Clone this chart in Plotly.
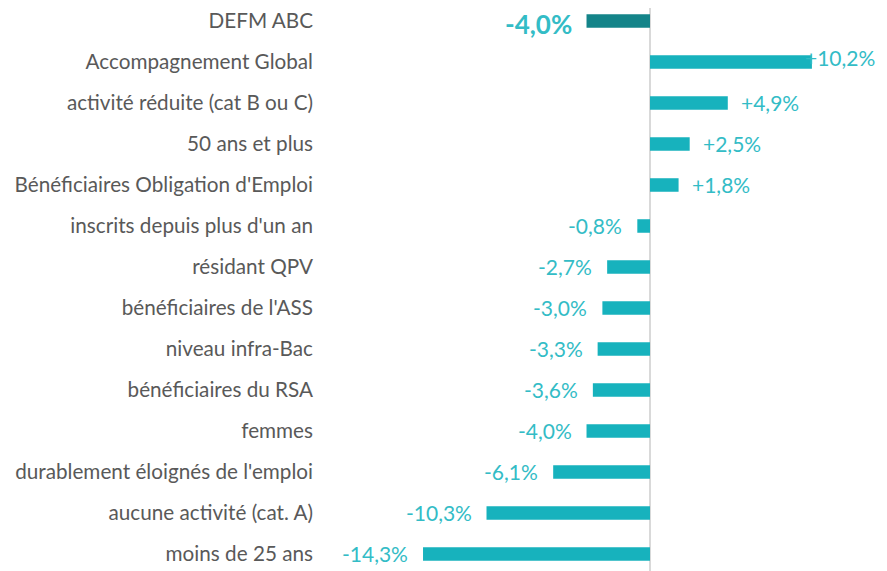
import plotly.graph_objects as go

categories = [
    "DEFM ABC",
    "Accompagnement Global",
    "activité réduite (cat B ou C)",
    "50 ans et plus",
    "Bénéficiaires Obligation d'Emploi",
    "inscrits depuis plus d'un an",
    "résidant QPV",
    "bénéficiaires de l'ASS",
    "niveau infra-Bac",
    "bénéficiaires du RSA",
    "femmes",
    "durablement éloignés de l'emploi",
    "aucune activité (cat. A)",
    "moins de 25 ans",
]
values = [-4.0, 10.2, 4.9, 2.5, 1.8, -0.8, -2.7, -3.0, -3.3, -3.6, -4.0, -6.1, -10.3, -14.3]

BAR = "#17b2bd"
BAR_DARK = "#148489"
LABEL = "#33bcc6"
colors = [BAR_DARK] + [BAR] * (len(values) - 1)


def fmt(v):
    s = f"{abs(v):.1f}".replace(".", ",") + "%"
    return ("+" if v > 0 else "-") + s


fig = go.Figure(go.Bar(
    x=values,
    y=categories,
    orientation="h",
    marker=dict(color=colors, line=dict(width=0)),
    width=0.33,
    hoverinfo="skip",
))

for i, (c, v) in enumerate(zip(categories, values)):
    big = i == 0
    ann = dict(
        x=v, y=c, text=fmt(v), showarrow=False,
        xanchor="left" if v > 0 else "right",
        xshift=11 if v > 0 else -13,
        font=dict(family="Lato", size=21, color=LABEL),
    )
    if big:
        ann["text"] = "<b>" + fmt(v) + "</b>"
        ann["font"]["size"] = 26
        ann["xshift"] = -14
        ann["yshift"] = -3
        ann["borderpad"] = 0
    if v > 10:
        ann["xshift"] = -9
        ann["yshift"] = 5
    fig.add_annotation(**ann)

# page body has an 8px margin, so the figure is sized/offset to compensate
fig.update_layout(
    width=879,
    height=563,
    margin=dict(l=312, r=0, t=0, b=0),
    plot_bgcolor="white",
    paper_bgcolor="white",
    showlegend=False,
    xaxis=dict(
        range=[-20.79, 14.93],
        showgrid=False,
        zeroline=True,
        zerolinecolor="#d9d9d9",
        zerolinewidth=2,
        showticklabels=False,
        fixedrange=True,
    ),
    yaxis=dict(
        categoryorder="array",
        categoryarray=categories,
        range=[13.415, -0.317],
        showgrid=False,
        ticks="",
        ticklabelstandoff=6,
        tickfont=dict(family="Lato", size=20.7, color="#595959"),
        fixedrange=True,
    ),
)

fig.write_html("out.html")
